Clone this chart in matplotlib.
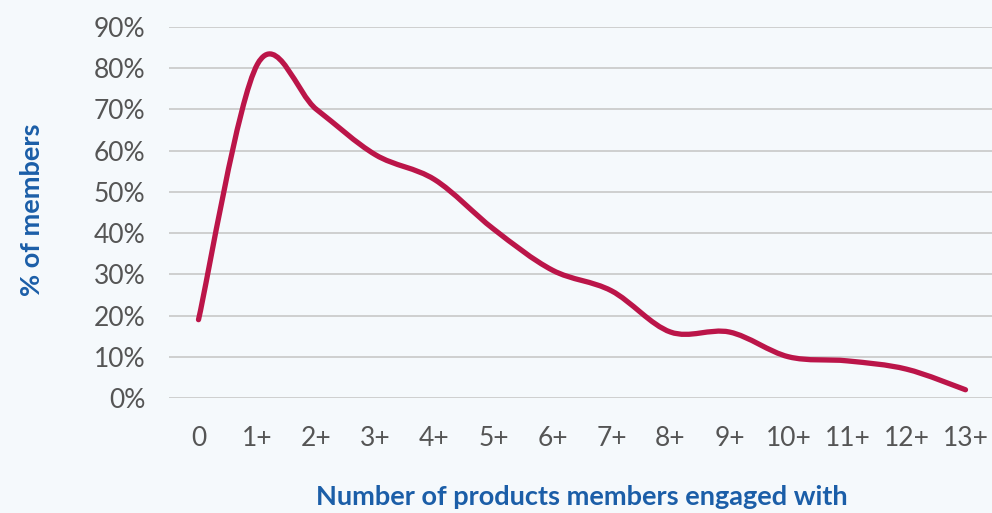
import matplotlib
matplotlib.use("Agg")
import matplotlib.pyplot as plt
from matplotlib.path import Path
from matplotlib.patches import PathPatch
import numpy as np

categories = ["0", "1+", "2+", "3+", "4+", "5+", "6+", "7+", "8+", "9+", "10+", "11+", "12+", "13+"]
members_pct = [19, 81, 70, 59, 53, 41, 31, 26, 16, 16, 10, 9, 7, 2]
y_ticks = [0, 10, 20, 30, 40, 50, 60, 70, 80, 90]

BG = "#f5f9fc"
LINE = "#bb1549"
LABEL = "#1b5ea8"
TICK = "#555555"
FONT = ["Lato", "DejaVu Sans"]

plt.rcParams["font.family"] = FONT

W, H = 992, 513
fig = plt.figure(figsize=(W / 100, H / 100), dpi=100, facecolor=BG)
ax = fig.add_axes([169 / W, 1 - 398 / H, 826 / W, (398 - 27) / H])
ax.set_facecolor(BG)

x = np.arange(len(categories), dtype=float)
y = np.array(members_pct, dtype=float)
ax.set_xlim(-0.5, len(categories) - 0.5)
ax.set_ylim(0, 90)

# uniform Catmull-Rom spline, endpoints duplicated
n = len(x)
k = 1 / 6
P = np.column_stack([x, y])
Pext = np.vstack([P[0], P, P[-1]])
verts = [tuple(P[0])]
codes = [Path.MOVETO]
for i in range(n - 1):
    a, b, c, d = Pext[i], Pext[i + 1], Pext[i + 2], Pext[i + 3]
    c1 = b + k * (c - a)
    c2 = c - k * (d - b)
    verts += [tuple(c1), tuple(c2), tuple(c)]
    codes += [Path.CURVE4] * 3
ax.add_patch(PathPatch(Path(verts, codes), facecolor="none", edgecolor=LINE,
                       lw=3.8, capstyle="round", joinstyle="round", zorder=3))

ax.set_yticks(y_ticks)
ax.set_yticklabels([f"{v}%" for v in y_ticks])
ax.set_xticks(x)
ax.set_xticklabels(categories)
ax.grid(axis="y", color="#cccccc", lw=1.3)
ax.set_axisbelow(True)
for s in ax.spines.values():
    s.set_visible(False)
ax.tick_params(axis="y", length=0, pad=17, labelsize=19, labelcolor=TICK)
ax.tick_params(axis="x", length=0, pad=20, labelsize=19, labelcolor=TICK)

fig.text(32 / W, 1 - 210 / H, "% of members", rotation=90, ha="center", va="center",
         fontsize=19.5, fontweight="bold", color=LABEL)
fig.text(582 / W, 1 - 497 / H, "Number of products members engaged with", ha="center",
         va="center", fontsize=19.5, fontweight="bold", color=LABEL)

fig.savefig("out.png", dpi=100, facecolor=BG)
